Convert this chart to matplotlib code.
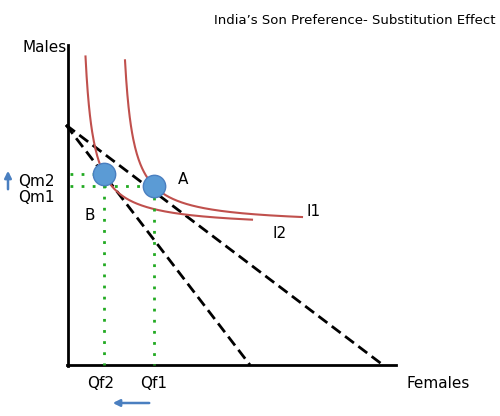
import matplotlib
matplotlib.use("Agg")
import matplotlib.pyplot as plt
import numpy as np

# diagram coordinates (pixel-like space, y downward)
budget1 = [(66, 125), (383, 365)]
budget2 = [(66, 125), (250, 365)]
pointA = (154, 186)
pointB = (104, 174)
I1 = dict(x0=116, y0=225, k=-1482, xs=125, xe=302)
I2 = dict(x0=77, y0=228, k=-1458, xs=85.5, xe=252)
ticks_x = ["Qf2", "Qf1"]
ticks_y = ["Qm2", "Qm1"]

fig = plt.figure(figsize=(5, 4.16), dpi=100)
ax = fig.add_axes([0, 0, 1, 1])
ax.set_xlim(0, 500); ax.set_ylim(416, 0); ax.axis("off")

ax.plot([68, 68], [45, 366], color="black", lw=2)
ax.plot([67, 396], [365, 365], color="black", lw=2)

for b in (budget1, budget2):
    ax.plot([b[0][0], b[1][0]], [b[0][1], b[1][1]], color="black", ls=(0, (4, 2)), lw=2)

for c in (I1, I2):
    x = np.linspace(c["xs"], c["xe"], 300)
    ax.plot(x, c["y0"] + c["k"] / (x - c["x0"]), color="#c0504d", lw=1.5)

g = dict(color="#22aa22", ls=(0, (1, 3)), lw=2)
ax.plot([70, pointB[0]], [pointB[1], pointB[1]], **g)
ax.plot([70, pointA[0]], [pointA[1], pointA[1]], **g)
ax.plot([pointB[0], pointB[0]], [pointB[1], 365], **g)
ax.plot([pointA[0], pointA[0]], [pointA[1], 365], **g)

for p in (pointA, pointB):
    ax.scatter([p[0]], [p[1]], s=260, color="#5b9bd5", edgecolor="#4a7fc0", zorder=5)

fs = 11
ax.text(495, 20, "India\u2019s Son Preference- Substitution Effect", fontsize=9.5, ha="right", va="center")
ax.text(22, 47, "Males", fontsize=fs, va="center")
ax.text(406, 383, "Females", fontsize=fs, va="center")
ax.text(18, 181, ticks_y[0], fontsize=fs, va="center")
ax.text(18, 198, ticks_y[1], fontsize=fs, va="center")
ax.text(87, 383, ticks_x[0], fontsize=fs, va="center")
ax.text(140, 383, ticks_x[1], fontsize=fs, va="center")
ax.text(178, 180, "A", fontsize=fs, va="center")
ax.text(84, 216, "B", fontsize=fs, va="center")
ax.text(306, 212, "I1", fontsize=fs, va="center")
ax.text(273, 234, "I2", fontsize=fs, va="center")
ax.annotate("", xy=(8, 168), xytext=(8, 192), arrowprops=dict(arrowstyle="-|>", color="#4a7fc0", lw=1.8))
ax.annotate("", xy=(110, 403), xytext=(152, 403), arrowprops=dict(arrowstyle="-|>", color="#4a7fc0", lw=1.8))

fig.savefig("out.png", dpi=100)
